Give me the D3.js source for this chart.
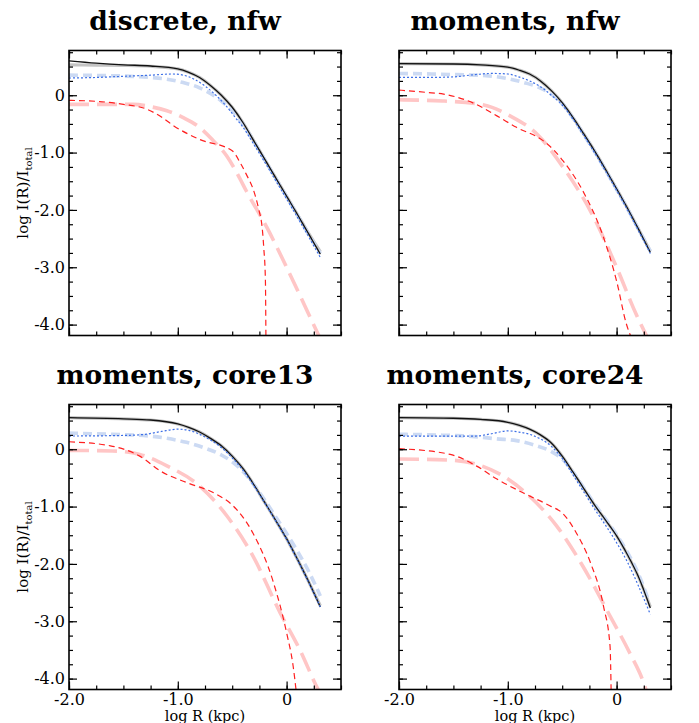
<!DOCTYPE html>
<html lang="en">
<head>
  <meta charset="UTF-8">
  <title>Surface brightness profiles</title>
  <script src="https://d3js.org/d3.v7.min.js" charset="utf-8"></script>
  <style>
    body { margin: 0; background: #fff; }
    text { font-family: "DejaVu Serif", serif; fill: #000; }
  </style>
</head>
<body>
  <div id="wrapper"></div>
  <script>
    // panel titles, in reading order
    const panelTitles = ['discrete, nfw', 'moments, nfw', 'moments, core13', 'moments, core24']

    const xMajorTicks = [-2, -1, 0]
    const xTickLabels = ['-2.0', '-1.0', '0']
    const yMajorTicks = [0, -1, -2, -3, -4]
    const yTickLabels = ['0', '-1.0', '-2.0', '-3.0', '-4.0']

    // [log R, log I/Itot] per panel
    // thin black: total fit
    const blackTotal = [
      [[-2, 0.6], [-1.75, 0.56], [-1.5, 0.53], [-1.25, 0.51], [-1.0, 0.46], [-0.9, 0.4], [-0.8, 0.31], [-0.7, 0.17], [-0.6, 0.0], [-0.5, -0.21], [-0.4, -0.48], [-0.3, -0.8], [-0.2, -1.12], [-0.1, -1.44], [0.0, -1.76], [0.1, -2.08], [0.2, -2.41], [0.31, -2.77]],
      [[-2, 0.55], [-1.5, 0.545], [-1.25, 0.53], [-1.0, 0.49], [-0.9, 0.44], [-0.8, 0.37], [-0.7, 0.25], [-0.6, 0.08], [-0.5, -0.13], [-0.4, -0.39], [-0.3, -0.68], [-0.2, -0.98], [-0.1, -1.3], [0.0, -1.63], [0.1, -1.97], [0.2, -2.33], [0.31, -2.74]],
      [[-2, 0.55], [-1.5, 0.53], [-1.25, 0.51], [-1.0, 0.44], [-0.9, 0.38], [-0.8, 0.3], [-0.7, 0.19], [-0.6, 0.06], [-0.5, -0.12], [-0.4, -0.34], [-0.3, -0.62], [-0.2, -0.93], [-0.1, -1.24], [0.0, -1.56], [0.1, -1.92], [0.2, -2.3], [0.31, -2.75]],
      [[-2, 0.55], [-1.5, 0.54], [-1.25, 0.52], [-1.0, 0.47], [-0.9, 0.42], [-0.8, 0.35], [-0.7, 0.25], [-0.6, 0.11], [-0.5, -0.12], [-0.4, -0.4], [-0.3, -0.69], [-0.2, -0.98], [-0.1, -1.24], [0.0, -1.51], [0.1, -1.84], [0.2, -2.22], [0.31, -2.77]],
    ]
    // thick grey: total model
    const grayTotal = [
      [[-2, 0.53], [-1.75, 0.525], [-1.5, 0.52], [-1.25, 0.505], [-1.0, 0.46], [-0.9, 0.4], [-0.8, 0.31], [-0.7, 0.17], [-0.6, 0.0], [-0.5, -0.21], [-0.4, -0.48], [-0.3, -0.8], [-0.2, -1.12], [-0.1, -1.44], [0.0, -1.76], [0.1, -2.08], [0.2, -2.4], [0.31, -2.73]],
      [[-2, 0.55], [-1.5, 0.545], [-1.25, 0.53], [-1.0, 0.49], [-0.9, 0.44], [-0.8, 0.37], [-0.7, 0.25], [-0.6, 0.08], [-0.5, -0.13], [-0.4, -0.39], [-0.3, -0.68], [-0.2, -0.98], [-0.1, -1.3], [0.0, -1.63], [0.1, -1.97], [0.2, -2.33], [0.31, -2.72]],
      [[-2, 0.55], [-1.5, 0.53], [-1.25, 0.51], [-1.0, 0.44], [-0.9, 0.38], [-0.8, 0.3], [-0.7, 0.19], [-0.6, 0.06], [-0.5, -0.12], [-0.4, -0.34], [-0.3, -0.62], [-0.2, -0.93], [-0.1, -1.24], [0.0, -1.56], [0.1, -1.92], [0.2, -2.3], [0.31, -2.73]],
      [[-2, 0.55], [-1.5, 0.54], [-1.25, 0.52], [-1.0, 0.47], [-0.9, 0.42], [-0.8, 0.35], [-0.7, 0.25], [-0.6, 0.11], [-0.5, -0.12], [-0.4, -0.4], [-0.3, -0.69], [-0.2, -0.98], [-0.1, -1.24], [0.0, -1.51], [0.1, -1.84], [0.2, -2.22], [0.31, -2.75]],
    ]
    // thick light blue dashed: population 1 model
    const blueModel = [
      [[-2, 0.35], [-1.75, 0.345], [-1.5, 0.335], [-1.25, 0.31], [-1.1, 0.28], [-0.95, 0.22], [-0.8, 0.13], [-0.7, 0.03], [-0.6, -0.1], [-0.5, -0.27], [-0.4, -0.51], [-0.3, -0.81], [-0.2, -1.13], [-0.1, -1.45], [0.0, -1.77], [0.1, -2.09], [0.2, -2.42], [0.31, -2.76]],
      [[-2, 0.38], [-1.7, 0.37], [-1.4, 0.355], [-1.2, 0.34], [-1.0, 0.29], [-0.85, 0.22], [-0.73, 0.15], [-0.6, 0.02], [-0.5, -0.15], [-0.4, -0.4], [-0.3, -0.69], [-0.2, -0.99], [-0.1, -1.31], [0.0, -1.64], [0.1, -1.98], [0.2, -2.33], [0.31, -2.72]],
      [[-2, 0.28], [-1.6, 0.26], [-1.26, 0.23], [-1.1, 0.19], [-0.92, 0.12], [-0.75, 0.02], [-0.6, -0.1], [-0.5, -0.22], [-0.4, -0.39], [-0.3, -0.62], [-0.2, -0.89], [-0.1, -1.18], [0.0, -1.47], [0.1, -1.78], [0.2, -2.12], [0.31, -2.56]],
      [[-2, 0.26], [-1.6, 0.245], [-1.3, 0.22], [-1.1, 0.18], [-0.92, 0.15], [-0.75, 0.07], [-0.6, -0.04], [-0.5, -0.17], [-0.4, -0.4], [-0.3, -0.68], [-0.2, -0.96], [-0.1, -1.22], [0.0, -1.49], [0.1, -1.8], [0.2, -2.17], [0.29, -2.62]],
    ]
    // thin blue dotted: population 1 fit
    const blueFit = [
      [[-2, 0.3], [-1.75, 0.31], [-1.5, 0.33], [-1.25, 0.35], [-1.05, 0.37], [-0.95, 0.35], [-0.85, 0.28], [-0.75, 0.16], [-0.65, 0.0], [-0.55, -0.2], [-0.45, -0.44], [-0.4, -0.56], [-0.3, -0.86], [-0.2, -1.17], [-0.1, -1.49], [0.0, -1.81], [0.1, -2.13], [0.2, -2.46], [0.31, -2.83]],
      [[-2, 0.31], [-1.75, 0.31], [-1.5, 0.32], [-1.3, 0.36], [-1.15, 0.38], [-1.0, 0.37], [-0.9, 0.32], [-0.8, 0.25], [-0.7, 0.15], [-0.6, 0.0], [-0.5, -0.17], [-0.4, -0.42], [-0.3, -0.71], [-0.2, -1.01], [-0.1, -1.33], [0.0, -1.66], [0.1, -2.0], [0.2, -2.36], [0.31, -2.76]],
      [[-2, 0.23], [-1.5, 0.24], [-1.3, 0.26], [-1.15, 0.31], [-1.0, 0.35], [-0.9, 0.33], [-0.8, 0.26], [-0.7, 0.16], [-0.6, 0.03], [-0.5, -0.15], [-0.4, -0.37], [-0.3, -0.64], [-0.2, -0.94], [-0.1, -1.25], [0.0, -1.57], [0.1, -1.93], [0.2, -2.31], [0.31, -2.75]],
      [[-2, 0.23], [-1.3, 0.23], [-1.15, 0.27], [-1.0, 0.32], [-0.9, 0.3], [-0.8, 0.26], [-0.7, 0.18], [-0.6, 0.05], [-0.5, -0.16], [-0.4, -0.45], [-0.3, -0.75], [-0.2, -1.05], [-0.1, -1.33], [0.0, -1.63], [0.1, -1.97], [0.2, -2.38], [0.31, -2.88]],
    ]
    // thick pink long dash: population 2 model
    const redModel = [
      [[-2, -0.16], [-1.7, -0.16], [-1.41, -0.16], [-1.25, -0.2], [-1.1, -0.27], [-0.95, -0.39], [-0.8, -0.56], [-0.68, -0.78], [-0.55, -1.06], [-0.45, -1.38], [-0.37, -1.67], [-0.18, -2.31], [0.06, -3.24], [0.29, -4.17], [0.31, -4.25]],
      [[-2, -0.08], [-1.6, -0.1], [-1.22, -0.17], [-0.98, -0.36], [-0.73, -0.68], [-0.49, -1.26], [-0.24, -2.02], [0.0, -3.0], [0.18, -3.82], [0.29, -4.25]],
      [[-2, -0.02], [-1.6, -0.03], [-1.35, -0.09], [-1.1, -0.29], [-0.8, -0.64], [-0.55, -1.16], [-0.31, -1.86], [-0.06, -2.85], [0.12, -3.49], [0.29, -4.19], [0.31, -4.26]],
      [[-2, -0.17], [-1.53, -0.19], [-1.29, -0.26], [-1.04, -0.47], [-0.8, -0.82], [-0.55, -1.34], [-0.31, -2.04], [-0.06, -2.91], [0.12, -3.55], [0.25, -4.08], [0.28, -4.25]],
    ]
    // thin red dashed: population 2 fit
    const redFit = [
      [[-2, -0.09], [-1.72, -0.11], [-1.5, -0.16], [-1.29, -0.24], [-1.15, -0.38], [-1.04, -0.53], [-0.8, -0.77], [-0.5, -0.97], [-0.42, -1.2], [-0.37, -1.38], [-0.3, -1.68], [-0.26, -1.96], [-0.22, -2.4], [-0.21, -2.66], [-0.195, -3.2], [-0.19, -4.25]],
      [[-2, 0.09], [-1.75, 0.05], [-1.59, 0.02], [-1.29, -0.16], [-1.1, -0.36], [-0.92, -0.56], [-0.67, -0.8], [-0.58, -0.95], [-0.49, -1.15], [-0.31, -1.67], [-0.12, -2.48], [0.0, -3.24], [0.09, -3.99], [0.14, -4.25]],
      [[-2, 0.13], [-1.62, 0.06], [-1.35, -0.12], [-1.16, -0.38], [-0.92, -0.58], [-0.64, -0.79], [-0.49, -0.99], [-0.31, -1.46], [-0.12, -2.33], [0.0, -3.2], [0.06, -3.78], [0.09, -4.25]],
      [[-2, 0.01], [-1.53, -0.09], [-1.29, -0.29], [-1.1, -0.52], [-0.86, -0.76], [-0.61, -0.99], [-0.5, -1.11], [-0.37, -1.46], [-0.24, -1.98], [-0.12, -2.74], [-0.06, -3.44], [-0.05, -4.25]],
    ]

    const drawPanels = () => {
      const dimensions = {
        width: 699,
        height: 723,
        panelWidth: 272,
        panelHeight: 285,
        lefts: [69, 399],
        tops: [50.5, 404.5],
      }

      const wrapper = d3.select('#wrapper')
        .append('svg')
          .attr('width', dimensions.width)
          .attr('height', dimensions.height)

      const xScale = d3.scaleLinear()
        .domain([-2, 0.5])
        .range([0, dimensions.panelWidth])
      const yScale = d3.scaleLinear()
        .domain([-4.19, 0.78])
        .range([dimensions.panelHeight, 0])

      const xMinor = d3.range(-2, 0.5001, 0.25)
      const yMinor = d3.range(-4, 0.7501, 0.25)

      const lineGenerator = d3.line()
        .x(d => xScale(d[0]))
        .y(d => yScale(d[1]))
        .curve(d3.curveMonotoneX)

      // drawn back to front: thick models first
      const styles = [
        { data: grayTotal, stroke: '#c4c4c4', width: 3.2, dash: null },
        { data: blueModel, stroke: '#ccdaf3', width: 3.6, dash: '9,5' },
        { data: redModel, stroke: '#ffc6c6', width: 3.6, dash: '20,8' },
        { data: blackTotal, stroke: '#111', width: 1.3, dash: null },
        { data: blueFit, stroke: '#3d6fe6', width: 1.2, dash: '2,2' },
        { data: redFit, stroke: '#ff2020', width: 1.2, dash: '6,4' },
      ]

      panelTitles.forEach((title, i) => {
        const col = i % 2
        const row = Math.floor(i / 2)
        const left = dimensions.lefts[col]
        const top = dimensions.tops[row]
        const W = dimensions.panelWidth
        const H = dimensions.panelHeight

        const bounds = wrapper.append('g')
          .attr('transform', `translate(${left}, ${top})`)

        bounds.append('clipPath')
          .attr('id', `clip-${i}`)
          .append('rect')
            .attr('width', W)
            .attr('height', H)

        const curves = bounds.append('g')
          .attr('clip-path', `url(#clip-${i})`)
        styles.forEach(s => {
          curves.append('path')
            .attr('d', lineGenerator(s.data[i]))
            .attr('fill', 'none')
            .attr('stroke', s.stroke)
            .attr('stroke-width', s.width)
            .attr('stroke-dasharray', s.dash)
            .attr('stroke-linejoin', 'round')
        })

        // ticks on all four sides, pointing inwards
        const addAxis = (gen, tx, ty, ticks, size, labels) => {
          const g = bounds.append('g')
            .attr('transform', `translate(${tx}, ${ty})`)
            .call(gen.tickValues(ticks).tickSize(-size).tickSizeOuter(0).tickPadding(4)
              .tickFormat(labels ? (d, j) => labels[j] : ''))
          g.select('.domain').remove()
          g.selectAll('line').attr('stroke', '#000').attr('stroke-width', 1.2)
          g.selectAll('text')
            .attr('font-family', '"DejaVu Serif", serif')
            .attr('font-size', 16)
          return g
        }
        addAxis(d3.axisLeft(yScale), 0, 0, yMinor, 4)
        addAxis(d3.axisLeft(yScale), 0, 0, yMajorTicks, 8, col === 0 ? yTickLabels : null)
        addAxis(d3.axisRight(yScale), W, 0, yMinor, 4)
        addAxis(d3.axisRight(yScale), W, 0, yMajorTicks, 8)
        addAxis(d3.axisTop(xScale), 0, 0, xMinor, 4)
        addAxis(d3.axisTop(xScale), 0, 0, xMajorTicks, 8)
        addAxis(d3.axisBottom(xScale), 0, H, xMinor, 4)
        const xAxis = addAxis(d3.axisBottom(xScale), 0, H, xMajorTicks, 8, row === 1 ? xTickLabels : null)
        xAxis.selectAll('text').attr('y', 15).attr('dy', 0)

        bounds.append('rect')
          .attr('width', W)
          .attr('height', H)
          .attr('fill', 'none')
          .attr('stroke', '#000')
          .attr('stroke-width', 1.6)

        bounds.append('text')
          .attr('x', 116)
          .attr('y', -21)
          .attr('text-anchor', 'middle')
          .attr('font-size', 26.5)
          .attr('font-weight', 'bold')
          .text(title)

        if (col === 0) {
          const yLabel = bounds.append('text')
            .attr('transform', `translate(-41, ${H / 2}) rotate(-90)`)
            .attr('text-anchor', 'middle')
            .attr('font-size', 15)
          yLabel.append('tspan').text('log I(R)/I')
          yLabel.append('tspan')
            .attr('font-size', 10)
            .attr('dy', 4)
            .text('total')
        }

        if (row === 1) {
          bounds.append('text')
            .attr('x', W / 2)
            .attr('y', H + 31)
            .attr('text-anchor', 'middle')
            .attr('font-size', 14.5)
            .text('log R (kpc)')
        }
      })
    }

    drawPanels()
  </script>
</body>
</html>
